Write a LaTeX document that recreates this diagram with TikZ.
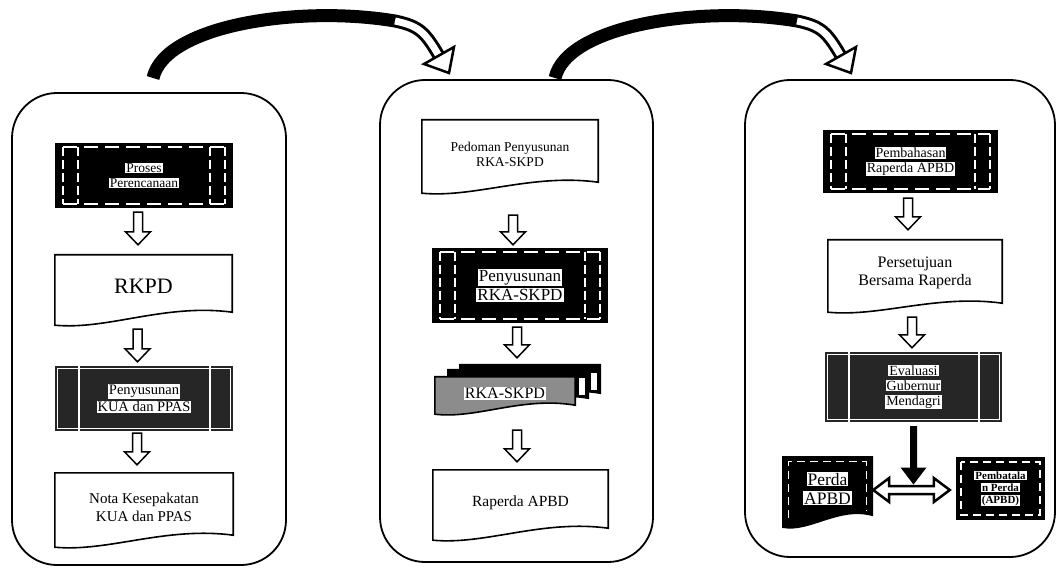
\documentclass[tikz,border=0pt]{standalone}
\usepackage{fontspec}
\setmainfont{Liberation Serif}
\usetikzlibrary{calc,backgrounds}
\setlength{\fboxsep}{1pt}
\newcommand{\hlt}[1]{\colorbox{white}{#1}}
\newcommand{\fs}[2]{\fontsize{#1pt}{#2pt}\selectfont}
% document shape: flat top, wavy bottom
\newcommand{\docpath}[3]{(#1.north west) -- (#1.north east) -- ($(#1.south east)+(0pt,#3)$) .. controls ($(#1.south west)!0.62!(#1.south east)+(0pt,#3+9pt)$) and ($(#1.south west)!0.3!(#1.south east)+(0pt,#2-5pt)$) .. ($(#1.south west)+(0pt,#2)$) -- cycle}
% hollow block arrow downwards
\newcommand{\blockdown}[5]{\draw[blockarrow] let \p1=($(#1.south)+(#3,-#4)$), \p2=($(#2.north)+(0pt,#5)$) in (\x1-4.5pt,\y1) -- (\x1+4.5pt,\y1) -- (\x1+4.5pt,\y2+13pt) -- (\x1+12.5pt,\y2+13pt) -- (\x1,\y2) -- (\x1-12.5pt,\y2+13pt) -- (\x1-4.5pt,\y2+13pt) -- cycle;}
\tikzset{
  panel/.style={draw, line width=1.8pt, rounded corners=45pt, inner sep=0pt},
  docnode/.style={inner sep=0pt, align=center},
  docline/.style={draw, line width=1.6pt},
  blockarrow/.style={draw, fill=white, line width=1.5pt, line join=miter},
  procdash/.style={fill=black, inner sep=0pt, align=center, path picture={
     \foreach \d in {8pt,23pt}{
       \draw[white, line width=1.3pt, dash pattern=on 9pt off 4pt] ([xshift=\d, yshift=-4pt]path picture bounding box.north west) -- ([xshift=\d, yshift=4pt]path picture bounding box.south west);
       \draw[white, line width=1.3pt, dash pattern=on 9pt off 4pt] ([xshift=-\d, yshift=-4pt]path picture bounding box.north east) -- ([xshift=-\d, yshift=4pt]path picture bounding box.south east);
     }
     \draw[white, line width=1.3pt, dash pattern=on 14pt off 7pt] ([xshift=8pt, yshift=-4pt]path picture bounding box.north west) -- ([xshift=-8pt, yshift=-4pt]path picture bounding box.north east);
     \draw[white, line width=1.3pt, dash pattern=on 14pt off 7pt] ([xshift=8pt, yshift=4pt]path picture bounding box.south west) -- ([xshift=-8pt, yshift=4pt]path picture bounding box.south east);
  }},
  procsolid/.style={fill=black!85, inner sep=0pt, align=center, path picture={
     \draw[white, line width=1.2pt] ([xshift=2.5pt, yshift=-2.5pt]path picture bounding box.north west) rectangle ([xshift=-2.5pt, yshift=2.5pt]path picture bounding box.south east);
     \draw[white, line width=2.5pt] ([xshift=24pt]path picture bounding box.north west) -- ([xshift=24pt]path picture bounding box.south west);
     \draw[white, line width=2.5pt] ([xshift=-23pt]path picture bounding box.north east) -- ([xshift=-23pt]path picture bounding box.south east);
  }},
  darkdash/.style={fill=black, inner sep=0pt, align=center, path picture={
     \draw[white, line width=1.3pt, dash pattern=on 8pt off 5pt] ([xshift=5pt, yshift=-5pt]path picture bounding box.north west) rectangle ([xshift=-5pt, yshift=5pt]path picture bounding box.south east);
  }},
  bigbody/.style={line width=13pt},
  hollowbody/.style={white, line width=7pt},
  bighead/.style={draw, fill=white, line width=2.5pt, line join=miter},
  dblarrow/.style={draw, fill=white, line width=2.5pt, line join=miter},
}
\begin{document}
\begin{tikzpicture}[x=1pt,y=-1pt]
\begin{scope}[on background layer]
  \fill[white] (0,0) rectangle (1058,569);
\end{scope}
\useasboundingbox (0,0) rectangle (1058,569);

% panels
\node[panel, minimum width=274pt, minimum height=472pt] (p1) at (149,329) {};
\node[panel, minimum width=273pt, minimum height=482pt] (p2) at (516.5,321) {};
\node[panel, minimum width=310pt, minimum height=477pt] (p3) at (900,318.5) {};

% curved arrows between panels
\foreach \s/\n in {0pt/1,402pt/2}{
\begin{scope}[xshift=\s]
  \coordinate (c\n s) at (153,78);
  \coordinate (c\n m) at (395,21);
  \coordinate (c\n e) at (439,56);
  \coordinate (h\n a) at (454,47);
  \coordinate (h\n t) at (449,73);
  \coordinate (h\n b) at (424,64);
  \draw[bigbody] (c\n s) .. controls +(12,-53) and +(-95,-16) .. (c\n m) .. controls +(24,5) and +(-14,-24) .. (c\n e);
  \draw[hollowbody] (c\n m) .. controls +(24,5) and +(-14,-24) .. (c\n e);
  \draw[bighead] (h\n a) -- (h\n t) -- (h\n b) -- cycle;
\end{scope}
}

% ---------- panel 1 ----------
\node[procdash, minimum width=178pt, minimum height=65pt, font=\fs{13.5}{15}] (pp) at (144,175.5) {\hlt{Proses}\\\hlt{Perencanaan}};
\node[docnode, minimum width=177pt, minimum height=63pt, font=\fs{22}{24}] (rkpd) at (143.5,286.5) {RKPD};
\draw[docline] \docpath{rkpd}{-7pt}{6pt};
\node[procsolid, minimum width=178pt, minimum height=65pt, font=\fs{14.5}{17}] (kua) at (144,398.5) {\hlt{Penyusunan}\\\hlt{KUA dan PPAS}};
\node[docnode, minimum width=178pt, minimum height=68pt, font=\fs{15}{18}] (nota) at (144,507) {Nota Kesepakatan\\KUA dan PPAS};
\draw[docline] \docpath{nota}{-6pt}{6pt};
\blockdown{pp}{rkpd}{-6pt}{4pt}{10pt}
\blockdown{rkpd}{kua}{-6pt}{11pt}{4pt}
\blockdown{kua}{nota}{-7pt}{2pt}{8pt}

% ---------- panel 2 ----------
\node[docnode, minimum width=176pt, minimum height=68pt, font=\fs{13.5}{15}] (ped) at (510,154) {Pedoman Penyusunan\\RKA-SKPD};
\draw[docline] \docpath{ped}{-5pt}{6pt};
\node[procdash, minimum width=176pt, minimum height=75pt, font=\fs{17}{19}] (prk) at (520,285.5) {\hlt{Penyusunan}\\\hlt{RKA-SKPD}};
\node[docnode, minimum width=140pt, minimum height=33pt] (rkb2) at (530,381.5) {};
\node[docnode, minimum width=140pt, minimum height=33pt] (rkb1) at (518,386.5) {};
\node[docnode, minimum width=140pt, minimum height=33pt, font=\fs{16}{18}] (rka) at (505,393.5) {\hlt{RKA-SKPD}};
\begin{scope}[on background layer]
  \filldraw[fill=black, draw=black, line width=1.6pt] \docpath{rkb2}{-4pt}{5pt};
  \fill[white] ($(rkb2.north east)+(-9pt,-8pt)$) rectangle ($(rkb2.south east)+(-3pt,8pt)$);
  \filldraw[fill=black, draw=black, line width=1.6pt] \docpath{rkb1}{-4pt}{5pt};
  \fill[white] ($(rkb1.north east)+(-9pt,-8pt)$) rectangle ($(rkb1.south east)+(-3pt,8pt)$);
  \filldraw[fill=black!45, draw=black, line width=1.6pt] \docpath{rka}{-4pt}{5pt};
\end{scope}
\node[docnode, minimum width=175pt, minimum height=65pt, font=\fs{15.5}{17}] (rap) at (520.5,502.5) {Raperda APBD};
\draw[docline] \docpath{rap}{-5pt}{7pt};
\blockdown{ped}{prk}{3pt}{27pt}{3pt}
\blockdown{prk}{rka}{-3pt}{4pt}{19pt}
\blockdown{rka}{rap}{12pt}{20pt}{8pt}

% ---------- panel 3 ----------
\node[procdash, minimum width=175pt, minimum height=63pt, font=\fs{14}{15}] (pem) at (910.5,161.5) {\hlt{Pembahasan}\\\hlt{Raperda APBD}};
\node[docnode, minimum width=174pt, minimum height=65pt, font=\fs{16}{19}] (pers) at (915,272.5) {\raisebox{5pt}{\begin{tabular}{@{}c@{}}Persetujuan\\[-1pt]Bersama Raperda\end{tabular}}};
\draw[docline] \docpath{pers}{-7pt}{2pt};
\node[procsolid, minimum width=177pt, minimum height=70pt, font=\fs{14}{15}] (eval) at (913.5,387) {\hlt{Evaluasi}\\\hlt{Gubernur}\\\hlt{Mendagri}};
\node[docnode, minimum width=89pt, minimum height=63pt, font=\fs{17.5}{19}] (perda) at (827.5,488.5) {\hlt{Perda}\\\hlt{APBD}};
\begin{scope}[on background layer]
  \filldraw[fill=black, draw=black, line width=1.6pt] \docpath{perda}{-7pt}{5pt};
  \draw[white, line width=1.3pt, dash pattern=on 8pt off 5pt] ($(perda.south west)+(6pt,2pt)$) -- ($(perda.north west)+(6pt,-5pt)$) -- ($(perda.north east)+(-6pt,-5pt)$) -- ($(perda.south east)+(-6pt,10pt)$);
\end{scope}
\node[darkdash, minimum width=89pt, minimum height=63pt, font=\fs{11}{12}\bfseries] (pbt) at (1000.5,488.5) {\hlt{Pembatala}\\\hlt{n Perda}\\\hlt{(APBD)}};
\blockdown{pem}{pers}{-2.5pt}{5pt}{10pt}
\blockdown{pers}{eval}{-3pt}{12pt}{4pt}

% double arrow and solid down arrow
\draw[dblarrow] let \p1=($(perda.east)+(1pt,-1.5pt)$), \p2=($(pbt.west)+(-6pt,-1.5pt)$) in
  (\x1,\y1) -- (\x1+16pt,\y1+12pt) -- (\x1+16pt,\y1+4pt) -- (\x2-16pt,\y1+4pt) -- (\x2-16pt,\y1+12pt) -- (\x2,\y1) -- (\x2-16pt,\y1-12pt) -- (\x2-16pt,\y1-4pt) -- (\x1+16pt,\y1-4pt) -- (\x1+16pt,\y1-12pt) -- cycle;
\coordinate (dtop) at ($(perda.east)!0.5!(pbt.west)+(0pt,4pt)$);
\fill let \p1=($(eval.south)+(0pt,-4pt)$), \p2=(dtop) in
  (\x1-3.5pt,\y1) -- (\x1+3.5pt,\y1) -- (\x1+3.5pt,\y2+17pt) -- (\x1+13pt,\y2+17pt) -- (\x1,\y2) -- (\x1-13pt,\y2+17pt) -- (\x1-3.5pt,\y2+17pt) -- cycle;
\end{tikzpicture}
\end{document}
